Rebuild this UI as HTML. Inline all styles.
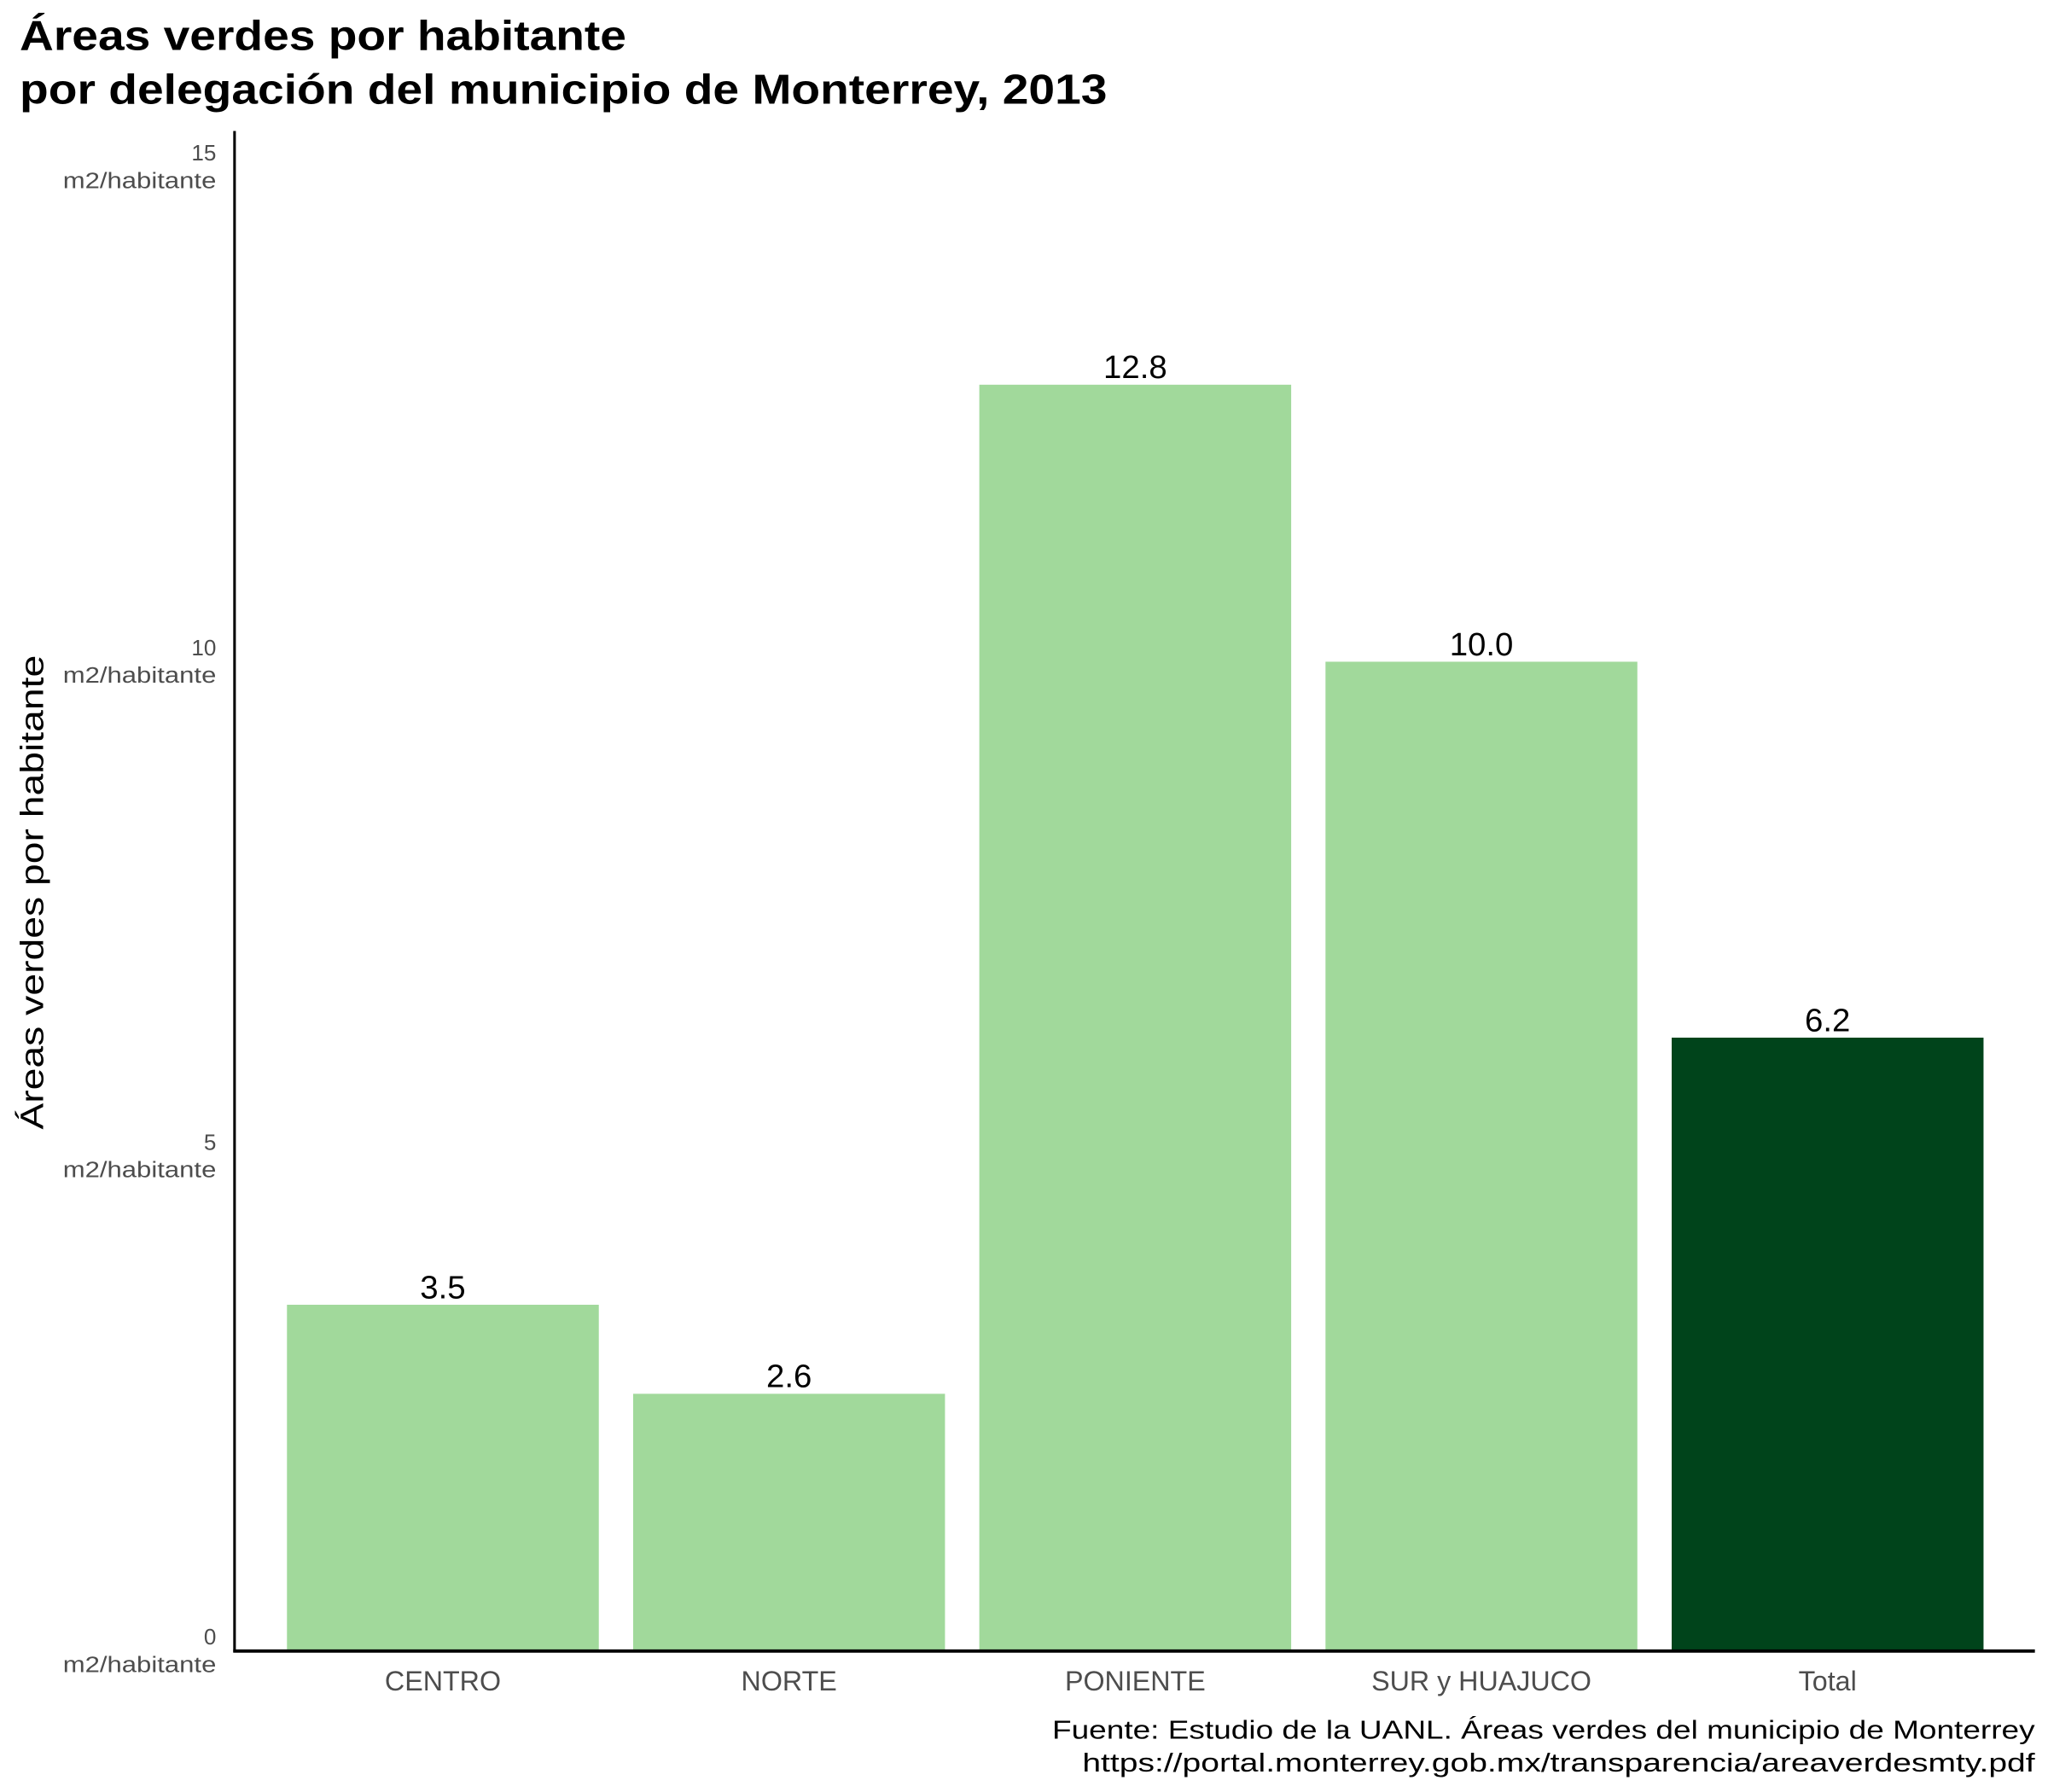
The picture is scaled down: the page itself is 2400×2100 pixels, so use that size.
<!DOCTYPE html>
<html><head><meta charset="utf-8"><style>
html,body{margin:0;padding:0;background:#fff;}
svg{display:block;font-family:"Liberation Sans",sans-serif;}
</style></head><body>
<svg id="chart" width="2400" height="2100" viewBox="0 0 1563 1367.6" preserveAspectRatio="none" xmlns="http://www.w3.org/2000/svg">
<text x="15" y="38" font-size="32" font-weight="bold" fill="#000" textLength="463" lengthAdjust="spacingAndGlyphs">Áreas verdes por habitante</text>
<text x="15" y="79" font-size="32" font-weight="bold" fill="#000" textLength="830" lengthAdjust="spacingAndGlyphs">por delegación del municipio de Monterrey, 2013</text>
<text transform="translate(33,681) rotate(-90)" text-anchor="middle" font-size="25" fill="#000" textLength="362" lengthAdjust="spacingAndGlyphs">Áreas verdes por habitante</text>
<g id="bars"></g>
<line x1="179" y1="100" x2="179" y2="1261" stroke="#000" stroke-width="2"/>
<line x1="178" y1="1260" x2="1553" y2="1260" stroke="#000" stroke-width="2.5"/>
<text x="1553" y="1327" text-anchor="end" font-size="20" fill="#000" textLength="750" lengthAdjust="spacingAndGlyphs">Fuente: Estudio de la UANL. Áreas verdes del municipio de Monterrey</text>
<text x="1553" y="1352" text-anchor="end" font-size="20" fill="#000" textLength="727" lengthAdjust="spacingAndGlyphs">https://portal.monterrey.gob.mx/transparencia/areaverdesmty.pdf</text>
</svg>
<script>
const categories = ["CENTRO","NORTE","PONIENTE","SUR y HUAJUCO","Total"];
const values = [3.5, 2.6, 12.8, 10.0, 6.2];
const isTotal = [false, false, false, false, true];
const yTicks = [0, 5, 10, 15];

const NS = "http://www.w3.org/2000/svg";
const svg = document.getElementById("chart");
const g = document.getElementById("bars");
const y0px = 1260, pxPerUnit = 75.5;
const step = 264.2, firstCenter = 338, barW = 238;
function yScale(v){ return y0px - v * pxPerUnit; }
function xScale(i){ return firstCenter + i * step; }
function mk(tag, attrs){ const e = document.createElementNS(NS, tag); for (const k in attrs) e.setAttribute(k, attrs[k]); return e; }

yTicks.forEach(function(t){
  const y = yScale(t);
  const a = mk("text", {x: 165, y: y - 5, "text-anchor": "end", "font-size": 17, fill: "#4d4d4d"});
  a.textContent = String(t);
  
  
  svg.appendChild(a);
  const b = mk("text", {x: 165, y: y + 16, "text-anchor": "end", "font-size": 17, fill: "#4d4d4d", textLength: 117, lengthAdjust: "spacingAndGlyphs"});
  b.textContent = "m2/habitante";
  
  
  svg.appendChild(b);
});

categories.forEach(function(c, i){
  const cx = xScale(i), top = yScale(values[i]);
  const r = mk("rect", {x: cx - barW/2, y: top, width: barW, height: y0px - top, fill: isTotal[i] ? "#00441b" : "#a1d99b"});
  
  
  g.appendChild(r);
  const vl = mk("text", {x: cx, y: top - 5, "text-anchor": "middle", "font-size": 25, fill: "#000"});
  vl.textContent = values[i].toFixed(1);
  
  
  g.appendChild(vl);
  const cl = mk("text", {x: cx, y: 1290, "text-anchor": "middle", "font-size": 21, fill: "#4d4d4d"});
  cl.textContent = c;
  
  
  svg.appendChild(cl);
});
</script>
</body></html>
